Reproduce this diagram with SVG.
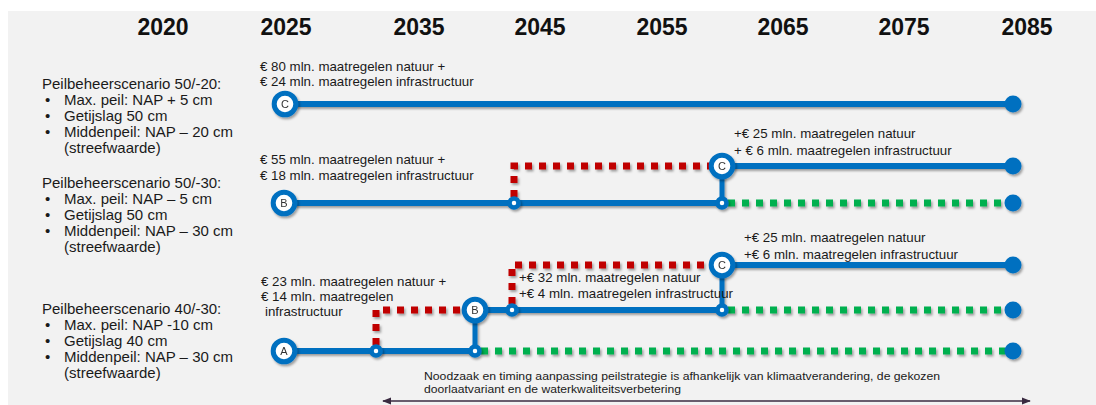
<svg xmlns="http://www.w3.org/2000/svg" width="1096" height="405" viewBox="0 0 1096 405">
<defs>
<filter id="sh" filterUnits="userSpaceOnUse" x="0" y="0" width="1096" height="405"><feDropShadow dx="1.5" dy="2" stdDeviation="1.2" flood-color="#000" flood-opacity="0.35"/></filter>
<marker id="ah" viewBox="0 0 10 10" refX="9" refY="5" markerWidth="9" markerHeight="9" orient="auto-start-reverse" markerUnits="userSpaceOnUse"><path d="M0,1 L10,5 L0,9 z" fill="#3a2a40"/></marker>
</defs>
<style>
.yr{font-family:"Liberation Sans",Arial,sans-serif;font-weight:bold;font-size:23px;fill:#111;text-anchor:middle}
.sc{font-family:"Liberation Sans",Arial,sans-serif;font-size:15px;fill:#1a1a1a}
.lb{font-family:"Liberation Sans",Arial,sans-serif;font-size:13.3px;fill:#1a1a1a}
.nt{font-family:"Liberation Sans",Arial,sans-serif;font-size:11.5px;fill:#1a1a1a}
.bl{stroke:#0070c0;stroke-width:6;fill:none}
.bv{stroke:#0070c0;stroke-width:5;fill:none}
.rd{stroke:#c00000;stroke-width:7;stroke-dasharray:7 7;fill:none}
.gr{stroke:#00b050;stroke-width:7;stroke-dasharray:7 7;fill:none}
.big{fill:#fff;stroke:#0070c0;stroke-width:5}
.jn{fill:#fff;stroke:#0070c0;stroke-width:4.5}
.end{fill:#0070c0}
.lt{font-family:"Liberation Sans",Arial,sans-serif;font-size:11px;fill:#333;text-anchor:middle}
</style>
<rect x="8" y="11" width="1088" height="394" fill="#f2f2f2"/>
<g id="years">
<text class="yr" x="163" y="35">2020</text>
<text class="yr" x="286" y="35">2025</text>
<text class="yr" x="419" y="35">2035</text>
<text class="yr" x="540" y="35">2045</text>
<text class="yr" x="662" y="35">2055</text>
<text class="yr" x="783" y="35">2065</text>
<text class="yr" x="904" y="35">2075</text>
<text class="yr" x="1027" y="35">2085</text>
</g>
<g id="scenario-50-20" class="sc">
<text x="42" y="89">Peilbeheerscenario 50/-20:</text>
<text x="45" y="105">•</text><text x="64" y="105">Max. peil: NAP + 5 cm</text>
<text x="45" y="121">•</text><text x="64" y="121">Getijslag 50 cm</text>
<text x="45" y="137">•</text><text x="64" y="137">Middenpeil: NAP – 20 cm</text>
<text x="64" y="153">(streefwaarde)</text>
</g>
<g id="scenario-50-30" class="sc">
<text x="42" y="188">Peilbeheerscenario 50/-30:</text>
<text x="45" y="204">•</text><text x="64" y="204">Max. peil: NAP – 5 cm</text>
<text x="45" y="220">•</text><text x="64" y="220">Getijslag 50 cm</text>
<text x="45" y="236">•</text><text x="64" y="236">Middenpeil: NAP – 30 cm</text>
<text x="64" y="252">(streefwaarde)</text>
</g>
<g id="scenario-40-30" class="sc">
<text x="42" y="314">Peilbeheerscenario 40/-30:</text>
<text x="45" y="330">•</text><text x="64" y="330">Max. peil: NAP -10 cm</text>
<text x="45" y="346">•</text><text x="64" y="346">Getijslag 40 cm</text>
<text x="45" y="362">•</text><text x="64" y="362">Middenpeil: NAP – 30 cm</text>
<text x="64" y="378">(streefwaarde)</text>
</g>
<g id="connectors" filter="url(#sh)">
<path class="bl" d="M285,104 H1013"/>
<path class="bl" d="M284,203 H722"/>
<path class="bv" d="M722,203 V166"/>
<path class="bl" d="M722,166 H1013"/>
<path class="bl" d="M722,265 H1013"/>
<path class="bl" d="M475,310 H722"/>
<path class="bv" d="M722,310 V265"/>
<path class="bl" d="M284,351 H475"/>
<path class="bv" d="M475,351 V310"/>
<path class="rd" d="M514,197 V166 H710"/>
<path class="rd" d="M512,304 V265 H710"/>
<path class="rd" d="M376,345 V310 H463"/>
<path class="gr" d="M728,203 H1005"/>
<path class="gr" d="M728,310 H1005"/>
<path class="gr" d="M481,351 H1005"/>
</g>
<g filter="url(#sh)">
<g id="node-C-2025"><circle class="big" cx="285" cy="104" r="10.8"/><text class="lt" x="285" y="108">C</text></g>
<g id="node-C-top-2065"><circle class="big" cx="722" cy="166" r="10.8"/><text class="lt" x="722" y="170">C</text></g>
<g id="node-B-2025"><circle class="big" cx="284" cy="203" r="10.8"/><text class="lt" x="284" y="207">B</text></g>
<g id="node-C-mid-2065"><circle class="big" cx="722" cy="265" r="10.8"/><text class="lt" x="722" y="269">C</text></g>
<g id="node-B-2040"><circle class="big" cx="475" cy="310" r="10.8"/><text class="lt" x="475" y="314">B</text></g>
<g id="node-A-2025"><circle class="big" cx="284" cy="351" r="10.8"/><text class="lt" x="284" y="355">A</text></g>
<g id="junction-1"><circle class="jn" cx="514" cy="203" r="4.5"/></g>
<g id="junction-2"><circle class="jn" cx="722" cy="203" r="4.5"/></g>
<g id="junction-3"><circle class="jn" cx="512" cy="310" r="4.5"/></g>
<g id="junction-4"><circle class="jn" cx="722" cy="310" r="4.5"/></g>
<g id="junction-5"><circle class="jn" cx="376" cy="351" r="4.5"/></g>
<g id="junction-6"><circle class="jn" cx="475" cy="351" r="4.5"/></g>
<g id="end-1"><circle class="end" cx="1013" cy="104" r="8.5"/></g>
<g id="end-2"><circle class="end" cx="1013" cy="166" r="8.5"/></g>
<g id="end-3"><circle class="end" cx="1013" cy="203" r="8.5"/></g>
<g id="end-4"><circle class="end" cx="1013" cy="265" r="8.5"/></g>
<g id="end-5"><circle class="end" cx="1013" cy="310" r="8.5"/></g>
<g id="end-6"><circle class="end" cx="1013" cy="351" r="8.5"/></g>
</g>
<g id="labels" class="lb">
<text x="260" y="71">€ 80 mln. maatregelen natuur +</text>
<text x="260" y="86">€ 24 mln. maatregelen infrastructuur</text>
<text x="260" y="164">€ 55 mln. maatregelen natuur +</text>
<text x="260" y="180">€ 18 mln. maatregelen infrastructuur</text>
<text x="734" y="138">+€ 25 mln. maatregelen natuur</text>
<text x="734" y="155">+ € 6 mln. maatregelen infrastructuur</text>
<text x="744" y="242">+€ 25 mln. maatregelen natuur</text>
<text x="744" y="259">+€ 6 mln. maatregelen infrastructuur</text>
<text x="261" y="286">€ 23 mln. maatregelen natuur +</text>
<text x="261" y="301">€ 14 mln. maatregelen</text>
<text x="265" y="316">infrastructuur</text>
<text x="519" y="282">+€ 32 mln. maatregelen natuur</text>
<text x="519" y="298">+€ 4 mln. maatregelen infrastructuur</text>
</g>
<g id="note">
<text class="nt" x="424" y="380" textLength="516" lengthAdjust="spacingAndGlyphs">Noodzaak en timing aanpassing peilstrategie is afhankelijk van klimaatverandering, de gekozen</text>
<text class="nt" x="424" y="393" textLength="257" lengthAdjust="spacingAndGlyphs">doorlaatvariant en de waterkwaliteitsverbetering</text>
<path d="M383,401 H1030" stroke="#3a2a40" stroke-width="1.5" fill="none" marker-start="url(#ah)" marker-end="url(#ah)"/>
</g>
</svg>
